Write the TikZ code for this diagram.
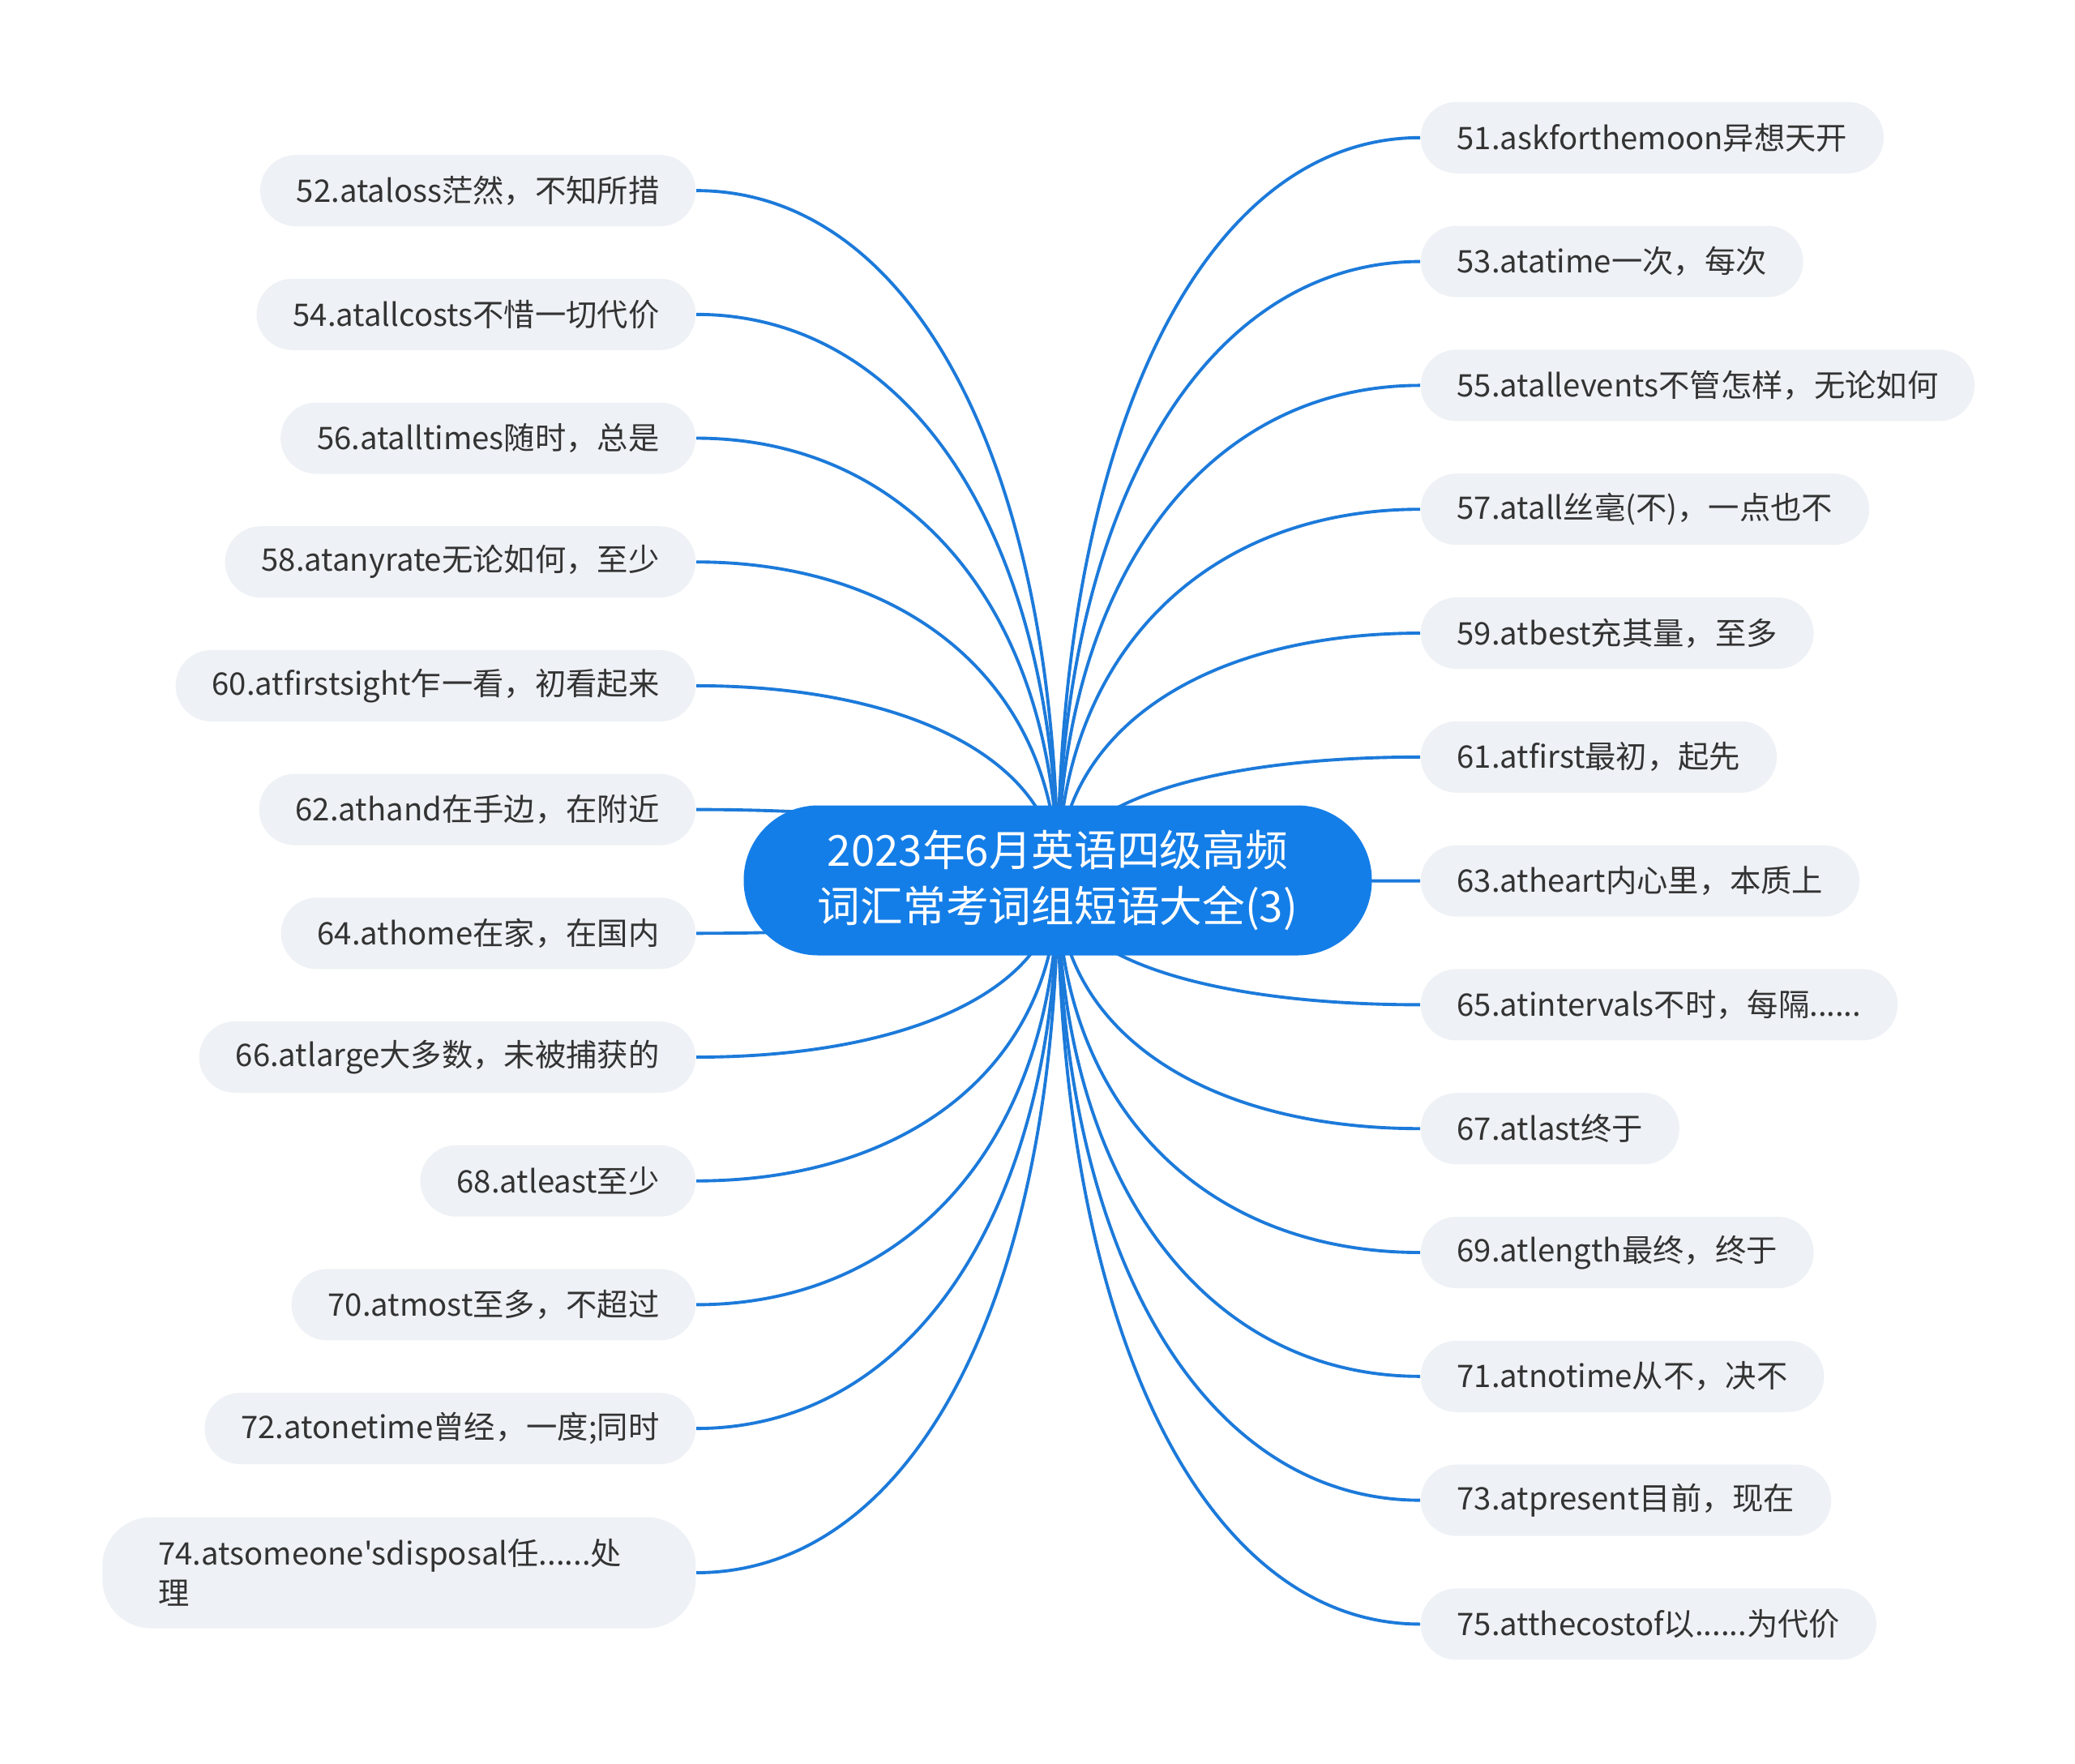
\documentclass[tikz,border=0pt]{standalone}
\usepackage{fontspec}
\setmainfont{Noto Sans CJK SC}[Ligatures=TeXOff]
\usetikzlibrary{calc,backgrounds}
\definecolor{mapblue}{RGB}{20,126,232}
\definecolor{linkblue}{RGB}{28,122,218}
\definecolor{leafgrey}{RGB}{238,241,245}
\definecolor{leaftext}{RGB}{51,51,51}

\begin{document}
\begin{tikzpicture}[
    rootnode/.style={rectangle, fill=mapblue, text=white, rounded corners=0.92cm,
        minimum width=7.75cm, minimum height=1.85cm, align=center,
        font=\fontsize{15}{19.6}\selectfont},
    leaf/.style={rectangle, fill=leafgrey, text=leaftext, rounded corners=0.44cm,
        minimum height=0.88cm, inner xsep=0.45cm, font=\fontsize{10.9}{14}\selectfont},
    link/.style={line width=1.1pt, linkblue}
]
    \useasboundingbox (0,0) rectangle (25.6,-21.75);

    \node[rootnode] (root) at (13.05,-10.86) {2023年6月英语四级高频\\词汇常考词组短语大全(3)};

    % right branch
    \foreach \k/\id/\txt in {
        0/51/{51.askforthemoon异想天开},
        1/53/{53.atatime一次，每次},
        2/55/{55.atallevents不管怎样，无论如何},
        3/57/{57.atall丝毫(不)，一点也不},
        4/59/{59.atbest充其量，至多},
        5/61/{61.atfirst最初，起先},
        6/63/{63.atheart内心里，本质上},
        7/65/{65.atintervals不时，每隔......},
        8/67/{67.atlast终于},
        9/69/{69.atlength最终，终于},
        10/71/{71.atnotime从不，决不},
        11/73/{73.atpresent目前，现在},
        12/75/{75.atthecostof以......为代价}}
        \node[leaf, anchor=west] (n\id) at (17.52,{-1.698-1.528*\k}) {\txt};

    % left branch
    \foreach \k/\id/\txt in {
        0/52/{52.ataloss茫然，不知所措},
        1/54/{54.atallcosts不惜一切代价},
        2/56/{56.atalltimes随时，总是},
        3/58/{58.atanyrate无论如何，至少},
        4/60/{60.atfirstsight乍一看，初看起来},
        5/62/{62.athand在手边，在附近},
        6/64/{64.athome在家，在国内},
        7/66/{66.atlarge大多数，未被捕获的},
        8/68/{68.atleast至少},
        9/70/{70.atmost至多，不超过},
        10/72/{72.atonetime曾经，一度;同时}}
        \node[leaf, anchor=east] (n\id) at (8.59,{-2.351-1.527*\k}) {\txt};
    \node[leaf, anchor=east, text width=5.94cm, inner xsep=0.69cm, align=left,
        minimum height=1.37cm, rounded corners=0.6cm] (n74) at (8.59,-19.40)
        {74.atsomeone'sdisposal任......处\\理};

    \begin{scope}[on background layer]
        \foreach \id in {51,53,...,75}
            \draw[link] (root.center) .. controls ($(root.center)!0.6!(root.center |- n\id.west)$)
                and ($(n\id.west)!0.6!(root.center |- n\id.west)$) .. (n\id.west);
        \foreach \id in {52,54,...,74}
            \draw[link] (root.center) .. controls ($(root.center)!0.6!(root.center |- n\id.east)$)
                and ($(n\id.east)!0.6!(root.center |- n\id.east)$) .. (n\id.east);
    \end{scope}
\end{tikzpicture}
\end{document}
